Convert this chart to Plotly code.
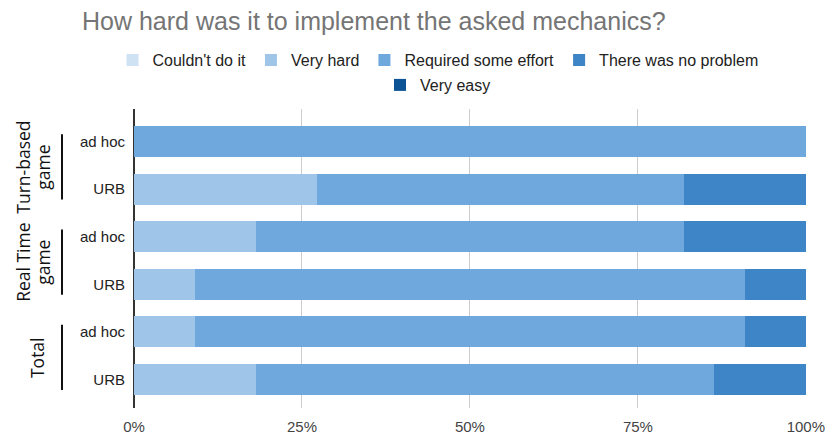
import plotly.graph_objects as go

# Rows of the chart, top to bottom: (game type, method)
rows = [
    ("Turn-based game", "ad hoc"),
    ("Turn-based game", "URB"),
    ("Real Time game", "ad hoc"),
    ("Real Time game", "URB"),
    ("Total", "ad hoc"),
    ("Total", "URB"),
]
row_ids = [f"{g} · {m}" for g, m in rows]
row_labels = [m for _, m in rows]

# Group titles, drawn rotated; each entry lists the lines of the title
group_titles = [["Turn-based", "game"], ["Real Time", "game"], ["Total"]]

# Number of answers per difficulty level, one value per row
couldnt_do_it = [0, 0, 0, 0, 0, 0]
very_hard = [0, 3, 2, 1, 2, 4]
required_effort = [11, 6, 7, 9, 18, 15]
no_problem = [0, 2, 2, 1, 2, 3]
very_easy = [0, 0, 0, 0, 0, 0]

# Share axis ticks
x_ticks = [0, 25, 50, 75, 100]
x_tick_labels = ["0%", "25%", "50%", "75%", "100%"]

series = [
    ("Couldn't do it", couldnt_do_it, "#cfe2f3", "legend"),
    ("Very hard", very_hard, "#9fc5e8", "legend"),
    ("Required some effort", required_effort, "#6fa8dc", "legend"),
    ("There was no problem", no_problem, "#3d85c6", "legend"),
    ("Very easy", very_easy, "#0b5394", "legend2"),
]

SANS = "Liberation Sans, Arial, sans-serif"
GROUP_FONT = "Open Sans, Noto Sans, sans-serif"

fig = go.Figure()
for name, vals, color, leg in series:
    fig.add_trace(go.Bar(
        name=name, x=vals, y=row_ids, orientation="h",
        marker=dict(color=color, line=dict(width=0)),
        legend=leg,
    ))

fig.update_layout(
    width=825, height=438,
    barmode="stack", barnorm="percent", bargap=0.35,
    paper_bgcolor="white", plot_bgcolor="white",
    margin=dict(l=134, r=19, t=109, b=30, autoexpand=False),
    font=dict(family=SANS, size=15, color="#222222"),
    title=dict(
        text="How hard was it to implement the asked mechanics?",
        x=82 / 825, xanchor="left", xref="container",
        y=1 - 21 / 438, yanchor="middle", yref="container",
        font=dict(family=SANS, size=25, color="#757575"),
    ),
    legend=dict(
        orientation="h", xref="container", yref="container",
        x=438 / 825, xanchor="center", y=1 - 60 / 438, yanchor="middle",
        font=dict(family=SANS, size=16, color="#222222"),
        traceorder="normal", bgcolor="rgba(0,0,0,0)",
    ),
    legend2=dict(
        orientation="h", xref="container", yref="container",
        x=438 / 825, xanchor="center", y=1 - 85 / 438, yanchor="middle",
        font=dict(family=SANS, size=16, color="#222222"),
        bgcolor="rgba(0,0,0,0)",
    ),
    xaxis=dict(
        range=[0, 100.02], tickvals=x_ticks, ticktext=x_tick_labels,
        showgrid=True, gridcolor="#cccccc", gridwidth=1,
        zeroline=True, zerolinecolor="#333333", zerolinewidth=1.5,
        showline=False, ticks="", ticklabelstandoff=8, automargin=False,
        ticklabeloverflow="allow",
        tickfont=dict(family=SANS, size=15, color="#444444"),
        fixedrange=True,
    ),
    yaxis=dict(
        type="category", categoryorder="array", categoryarray=row_ids,
        range=[5.6, -0.683],
        tickvals=row_ids, ticktext=row_labels,
        showgrid=False, zeroline=False, showline=False, ticks="",
        ticklabelstandoff=8, automargin=False,
        tickfont=dict(family=SANS, size=15, color="#222222"),
        fixedrange=True,
    ),
)

# Group brackets and rotated group titles on the left
for i, lines in enumerate(group_titles):
    first = 2 * i
    last = 2 * i + 1
    fig.add_shape(
        type="line", xref="paper", yref="y",
        x0=(62 - 134) / 672, x1=(62 - 134) / 672,
        y0=first - 0.15, y1=last + 0.22,
        line=dict(color="#111111", width=2),
    )
    centers = [23, 43] if len(lines) == 2 else [37]
    for line_text, cx in zip(lines, centers):
        fig.add_annotation(
            text=line_text, xref="paper", yref="y",
            x=(cx - 134) / 672, y=first + 0.55,
            xanchor="center", yanchor="middle",
            textangle=-90, showarrow=False,
            font=dict(family=GROUP_FONT, size=17.5, color="#111111"),
        )

fig.write_html("out.html")
